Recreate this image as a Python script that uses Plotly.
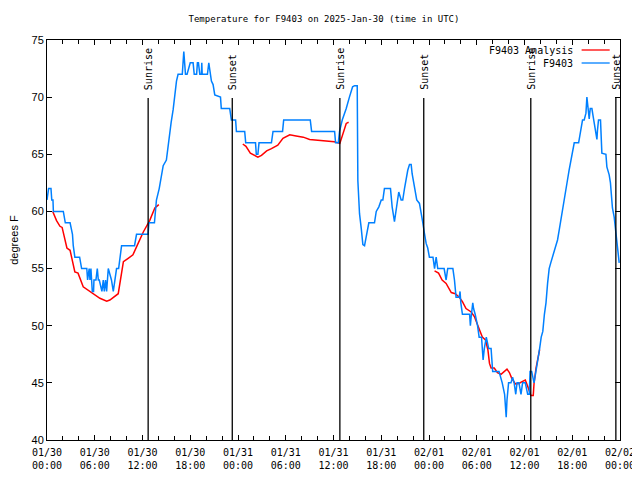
import plotly.graph_objects as go

# ---------------- data (hours since 2025-01-30 00:00 UTC) ----------------
obs_hours = [0.0, 0.2, 0.5, 0.6, 0.75, 0.8, 2.05, 2.3, 2.9, 3.2, 3.3, 3.5, 4.1, 4.35, 5.0,
             5.1, 5.3, 5.4, 5.52, 5.69, 5.85, 5.9, 6.15, 6.32, 6.45, 6.57, 6.9, 7.07, 7.2,
             7.36, 7.49, 7.7, 7.9, 8.1, 8.33, 8.53, 8.74, 9.0, 9.16, 9.37, 11.0, 11.25, 12.7,
             12.8, 13.5, 13.75, 14.1, 14.6, 15.0, 15.2, 15.4, 15.6, 15.85, 16.06, 16.27, 16.47,
             17.0, 17.19, 17.4, 17.6, 18.0, 18.36, 18.5, 18.8, 18.9, 19.03, 19.2, 19.4, 19.45,
             19.5, 20.16, 20.33, 20.45, 20.66, 20.87, 21.08, 21.8, 21.9, 22.96, 23.17, 23.7,
             23.8, 24.84, 24.97, 26.2, 26.3, 26.5, 26.64, 28.2, 28.4, 29.6, 29.74, 33.08, 33.25,
             36.14, 36.26, 36.6, 36.76, 37.1, 37.4, 37.6, 38.0, 38.4, 38.65, 38.98, 39.06,
             39.27, 39.49, 39.69, 39.9, 40.1, 40.44, 41.15, 41.37, 41.7, 42.0, 42.2, 42.4,
             43.16, 43.37, 43.66, 43.88, 44.08, 44.2, 44.5, 44.7, 44.92, 45.13, 45.33, 45.55,
             45.76, 45.88, 46.17, 46.46, 46.8, 47.0, 47.2, 47.4, 47.64, 47.84, 48.05, 48.5,
             48.7, 48.9, 49.1, 49.9, 50.15, 50.35, 51.0, 51.2, 51.3, 51.4, 51.8, 51.9, 52.0,
             52.2, 53.1, 53.2, 53.3, 53.5, 53.6, 53.8, 54.1, 54.3, 54.6, 54.8, 54.95, 55.2,
             55.5, 55.8, 56.0, 56.3, 56.8, 57.2, 57.5, 57.7, 57.8, 58.0, 58.3, 58.5, 58.7,
             58.9, 59.06, 59.3, 59.56, 59.76, 60.1, 60.4, 60.6, 60.7, 60.9, 61.2, 61.45,
             61.65, 61.9, 62.1, 62.3, 62.5, 62.7, 62.9, 63.1, 63.3, 63.5, 63.95, 64.15, 64.37,
             64.58, 64.78, 64.99, 65.2, 65.4, 65.6, 65.83, 66.04, 66.25, 66.8, 66.96, 67.09,
             67.29, 67.5, 67.72, 67.84, 68.0, 68.13, 68.26, 68.47, 68.63, 68.8, 68.97, 69.1,
             69.17, 69.3, 69.55, 69.64, 69.72, 70.23, 70.35, 70.64, 70.8, 70.9, 71.05, 71.27,
             71.4, 71.56, 71.7, 71.9]
obs_temps = [61, 62, 62, 61, 61, 60, 60, 59, 59, 58, 57, 56, 56, 55, 55,
             54, 55, 54, 55, 53, 53, 54, 54, 55, 54, 54, 53, 54, 53,
             54, 53, 55, 54.5, 54, 53, 54, 55, 55, 56, 57, 57, 58, 58,
             59, 59, 61, 62, 64, 64.5, 65.7, 66.8, 67.8, 68.9, 70.5, 71.4, 72,
             72, 74, 72, 72, 73, 73, 72, 72, 73, 73, 72, 72, 73,
             72, 72, 73, 72.4, 71.4, 71.1, 70.2, 70, 69, 69, 68, 68,
             67, 67, 66, 66, 65, 65, 66, 66, 67, 67, 68, 68, 67,
             67, 66, 66, 67, 68, 68.6, 69, 70, 70.9, 71, 71, 62.7,
             59.8, 58.5, 57.1, 57, 57.8, 59, 59, 60, 60.4, 61, 61, 62,
             62, 60.4, 59.1, 60, 61, 61.7, 61, 61, 62, 62.9, 63.6, 64.1,
             64.1, 63.3, 62, 61, 60.7, 60, 59.1, 58.2, 57.2, 56.8, 56, 56,
             55, 56, 55, 55, 54, 55, 55, 54, 53, 52.5, 52.5, 53, 52,
             51, 51, 50, 50.8, 52, 51.5, 51, 50, 49, 49, 47, 48, 49,
             48, 48, 46, 46, 46, 45, 44, 42, 43.5, 45, 45, 45.5, 45,
             44, 45, 45, 44, 45, 45, 44, 44, 46, 46, 45, 46,
             47, 48, 49, 49.5, 51, 52, 53.7, 55, 55.5, 56, 57, 57.5, 58.4,
             59.25, 60, 60.7, 61.9, 62.75, 63.6, 64.5, 65.4, 66, 66, 66.7, 67.3,
             68, 68, 68.6, 70, 68.6, 68.1, 69, 69, 68.3, 67.7, 66.8, 66.3,
             67.1, 68, 68, 66.8, 65.1, 65, 63.9, 63.2, 62.5, 61.6, 60.3, 59.5,
             58.7, 57.3, 56.5, 55.5]

analysis_hours = [0.72, 1.2, 1.63, 1.9, 2.5, 2.9, 3.5, 3.9, 4.55, 5.4, 6.0, 6.65, 7.5, 7.9,
                  8.95, 9.6, 10.2, 10.8, 11.25, 12.1, 12.9, 13.55, 14.05, None,
                  24.6, 25.0, 25.55, 26.1, 26.5, 26.95, 27.6, 28.2, 29.0, 29.65, 30.5, 31.3,
                  32.2, 33.0, 33.8, 35.1, 36.1, 36.8, 37.1, 37.4, 37.6, 37.9, None,
                  48.7, 49.2, 49.65, 50.15, 50.8, 51.3, 51.8, 52.2, 52.65, 53.3, 53.7, 54.1,
                  54.3, 54.7, 55.1, 55.4, 55.6, 55.8, 56.2, 56.6, 57.05, 57.5, 57.8, 58.1,
                  58.4, 58.85, 59.3, 59.7, 60.1, 60.4, 60.7, 60.8, 61.1, 61.2, 61.45, 61.75, 61.9]
analysis_temps = [60.0, 59.2, 58.7, 58.6, 56.8, 56.6, 54.7, 54.6, 53.4, 53.0, 52.7, 52.4, 52.15, 52.25,
                  52.8, 55.6, 55.9, 56.2, 56.9, 58.2, 59.2, 60.3, 60.6, None,
                  65.9, 65.7, 65.1, 64.9, 64.75, 64.9, 65.3, 65.5, 65.8, 66.4, 66.7, 66.6,
                  66.5, 66.3, 66.25, 66.2, 66.1, 65.95, 66.6, 67.3, 67.7, 67.8, None,
                  54.8, 54.6, 54.0, 53.7, 52.9, 52.8, 52.5, 52.1, 51.5, 51.2, 50.8, 50.1,
                  49.6, 49.0, 48.75, 47.9, 46.7, 46.3, 46.3, 45.9, 45.75, 46.0, 46.2, 45.9,
                  45.4, 44.9, 44.95, 45.1, 45.25, 44.7, 44.2, 43.9, 43.9, 44.96, 46.3, 47.4, 47.9]

event_hours = [12.71, 23.28, 36.8, 47.34, 60.79, 71.48]
event_labels = ["Sunrise", "Sunset", "Sunrise", "Sunset", "Sunrise", "Sunset"]

tick_hours = [0, 6, 12, 18, 24, 30, 36, 42, 48, 54, 60, 66, 72]
tick_labels = ["01/30<br>00:00", "01/30<br>06:00", "01/30<br>12:00", "01/30<br>18:00",
               "01/31<br>00:00", "01/31<br>06:00", "01/31<br>12:00", "01/31<br>18:00",
               "02/01<br>00:00", "02/01<br>06:00", "02/01<br>12:00", "02/01<br>18:00",
               "02/02<br>00:00"]

series_names = ["F9403 Analysis", "F9403"]
series_colors = ["#ff0000", "#0080ff"]

MONO = "DejaVu Sans Mono"

# page body has an 8px margin: figure is sized/offset to compensate
W, H = 632, 472

fig = go.Figure()
fig.add_trace(go.Scatter(x=analysis_hours, y=analysis_temps, mode="lines",
                         line=dict(color=series_colors[0], width=1.5),
                         name=series_names[0], connectgaps=False, showlegend=False))
fig.add_trace(go.Scatter(x=obs_hours, y=obs_temps, mode="lines",
                         line=dict(color=series_colors[1], width=1.5),
                         name=series_names[1], showlegend=False))

# sunrise / sunset markers
for h, lab in zip(event_hours, event_labels):
    fig.add_shape(type="line", xref="x", yref="y domain", x0=h, x1=h, y0=0, y1=0.855,
                  line=dict(color="black", width=1.3))
    fig.add_annotation(x=h, y=0.87, xref="x", yref="y domain", text=lab, showarrow=False,
                       textangle=-90, xanchor="center", yanchor="bottom",
                       font=dict(family=MONO, size=10, color="black"))

# legend (text followed by line sample, gnuplot style)
for i, (nm, col) in enumerate(zip(series_names, series_colors)):
    ypos = 0.975 - i * 0.0325
    fig.add_annotation(x=0.922, y=ypos, xref="paper", yref="paper", text=nm,
                       showarrow=False, xanchor="right", yanchor="middle",
                       font=dict(family=MONO, size=10, color="black"))
    fig.add_shape(type="line", xref="paper", yref="paper", x0=0.933, x1=0.982,
                  y0=ypos, y1=ypos, line=dict(color=col, width=1.3))

fig.update_layout(
    width=W, height=H,
    margin=dict(l=39, r=20, t=32, b=40, autoexpand=False),
    paper_bgcolor="white", plot_bgcolor="white",
    title=dict(text="Temperature for F9403 on 2025-Jan-30 (time in UTC)",
               x=0.5, xanchor="center", xref="container",
               y=1 - 11 / H, yanchor="middle", yref="container",
               font=dict(family=MONO, size=9, color="black")),
    showlegend=False,
)
fig.update_xaxes(range=[0, 72], tickmode="array", tickvals=tick_hours, ticktext=tick_labels,
                 automargin=False, ticklabelstandoff=3,
                 ticks="inside", ticklen=5, tickcolor="black", showline=True, linecolor="black",
                 linewidth=1, mirror="ticks", showgrid=False, zeroline=False,
                 tickfont=dict(family=MONO, size=10, color="black"),
                 minor=dict(tickmode="linear", tick0=0, dtick=2, ticks="inside", ticklen=4,
                            tickcolor="black"))
fig.update_yaxes(range=[40, 75], tickmode="linear", tick0=40, dtick=5, automargin=False,
                 ticks="inside", ticklen=5, tickcolor="black", showline=True, linecolor="black",
                 linewidth=1, mirror="ticks", showgrid=False, zeroline=False,
                 tickfont=dict(family="Liberation Sans", size=11, color="black"),
                 title=dict(text="degrees F", standoff=11,
                            font=dict(family="Liberation Sans", size=11, color="black")))

fig.write_html("out.html")
